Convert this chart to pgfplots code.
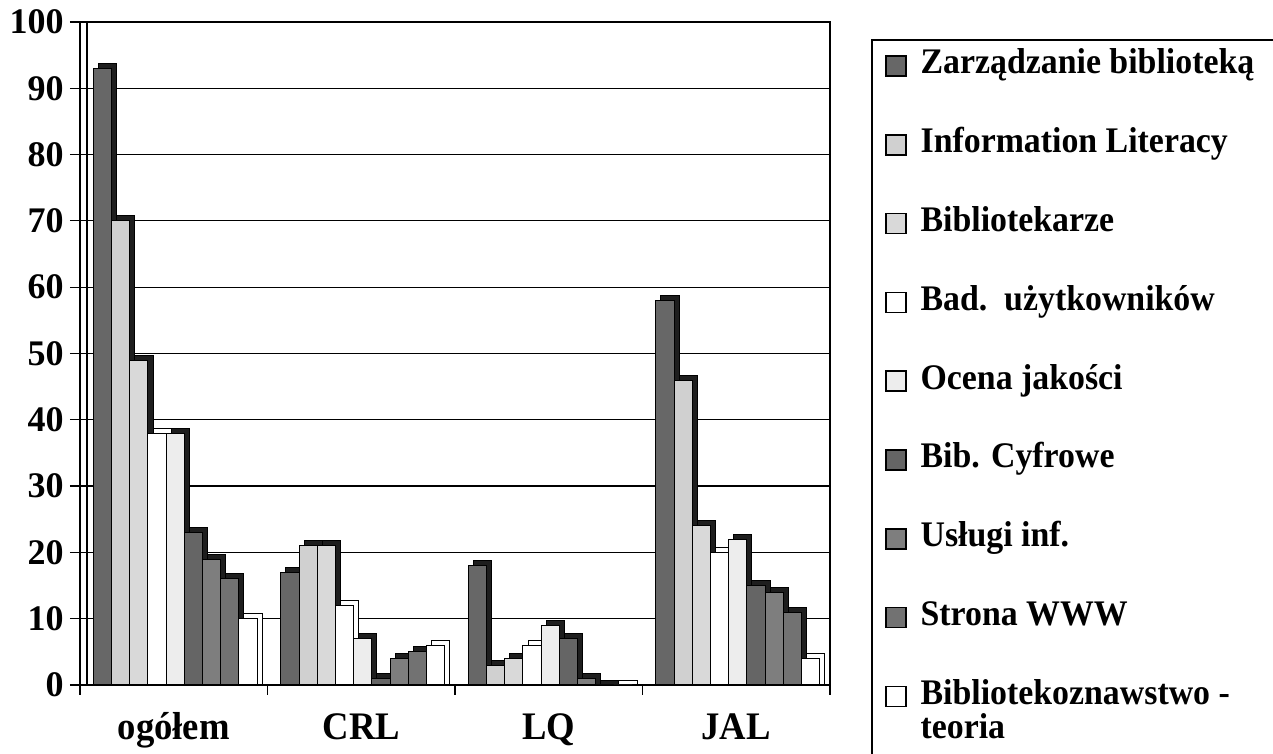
\documentclass[border=0pt]{standalone}
\usepackage{fontspec}
\setmainfont{Liberation Serif}
\newfontfamily\condfont{Liberation Serif}[FakeStretch=0.94]
\usepackage{pgfplots}
\pgfplotsset{compat=1.18}
\usepackage{pgfplotstable}

\pgfplotstableread{
x s1 s2 s3 s4 s5 s6 s7 s8 s9
0 93 70 49 38 38 23 19 16 10
1 17 21 21 12 7 1 4 5 6
2 18 3 4 6 9 7 1 0 0
3 58 46 24 20 22 15 14 11 4
}\datatab

\definecolor{c1}{HTML}{676767}
\definecolor{c2}{HTML}{D0D0D0}
\definecolor{c3}{HTML}{D9D9D9}
\definecolor{c4}{HTML}{FFFFFF}
\definecolor{c5}{HTML}{EDEDED}
\definecolor{c6}{HTML}{656565}
\definecolor{c7}{HTML}{7E7E7E}
\definecolor{c8}{HTML}{727272}
\definecolor{c9}{HTML}{FFFFFF}
\definecolor{shade}{HTML}{1E1E1E}

\pgfplotsset{
  bar/.style={ybar, bar width=0.097, bar shift=0pt, draw=black, line width=0.5pt},
}

\begin{document}
\begin{tikzpicture}
\begin{axis}[
  at={(0,0)}, anchor=south west, scale only axis,
  width=375pt, height=331.5pt,
  xmin=-0.5, xmax=3.5, ymin=0, ymax=100,
  xtick={0,1,2,3}, xticklabels={ogółem,CRL,LQ,JAL},
  major x tick style={draw=none},
  minor xtick={-0.5,0.5,1.5,2.5,3.5},
  ytick={0,10,...,100},
  ymajorgrids, grid style={black, line width=0.6pt},
  axis line style={black, line width=0.7pt},
  tick style={black, line width=0.6pt},
  tick align=outside, tick pos=left,
  major tick length=5pt, minor tick length=5pt,
  /pgf/number format/assume math mode=true,
  ticklabel style={font=\fontsize{18}{18}\selectfont\bfseries},
  xticklabel style={anchor=base, yshift=-22pt, font=\fontsize{19.5}{19.5}\selectfont\condfont\bfseries},
  yticklabel style={anchor=east, inner sep=0pt, xshift=-3pt},
  legend image code/.code={\draw[#1, line width=0.8pt] (0pt,-5pt) rectangle (10pt,5pt);},
  legend style={at={(axis description cs:1.0733,0.9578)}, anchor=north west,
    draw=none, fill=none, inner sep=0pt, outer sep=0pt, row sep=23.4pt, column sep=7pt,
    font=\fontsize{18}{20}\selectfont\condfont\bfseries,
    nodes={inner sep=0pt, text height=12pt, text depth=4pt, anchor=west}},
  legend cell align=left,
]
\addplot[bar, fill=shade, forget plot] table[x expr=\thisrow{x}-0.353, y expr=\thisrow{s1}+0.75]{\datatab};
\addplot[bar, fill=c1] table[x expr=\thisrow{x}-0.380, y=s1]{\datatab};
\addplot[bar, fill=shade, forget plot] table[x expr=\thisrow{x}-0.256, y expr=\thisrow{s2}+0.75]{\datatab};
\addplot[bar, fill=c2] table[x expr=\thisrow{x}-0.283, y=s2]{\datatab};
\addplot[bar, fill=shade, forget plot] table[x expr=\thisrow{x}-0.159, y expr=\thisrow{s3}+0.75]{\datatab};
\addplot[bar, fill=c3] table[x expr=\thisrow{x}-0.186, y=s3]{\datatab};
\addplot[bar, fill=white, forget plot] table[x expr=\thisrow{x}-0.062, y expr=\thisrow{s4}+0.75]{\datatab};
\addplot[bar, fill=c4] table[x expr=\thisrow{x}-0.089, y=s4]{\datatab};
\addplot[bar, fill=shade, forget plot] table[x expr=\thisrow{x}+0.035, y expr=\thisrow{s5}+0.75]{\datatab};
\addplot[bar, fill=c5] table[x expr=\thisrow{x}+0.008, y=s5]{\datatab};
\addplot[bar, fill=shade, forget plot] table[x expr=\thisrow{x}+0.132, y expr=\thisrow{s6}+0.75]{\datatab};
\addplot[bar, fill=c6] table[x expr=\thisrow{x}+0.105, y=s6]{\datatab};
\addplot[bar, fill=shade, forget plot] table[x expr=\thisrow{x}+0.229, y expr=\thisrow{s7}+0.75]{\datatab};
\addplot[bar, fill=c7] table[x expr=\thisrow{x}+0.202, y=s7]{\datatab};
\addplot[bar, fill=shade, forget plot] table[x expr=\thisrow{x}+0.326, y expr=\thisrow{s8}+0.75]{\datatab};
\addplot[bar, fill=c8] table[x expr=\thisrow{x}+0.299, y=s8]{\datatab};
\addplot[bar, fill=white, forget plot] table[x expr=\thisrow{x}+0.423, y expr=\thisrow{s9}+0.75]{\datatab};
\addplot[bar, fill=c9] table[x expr=\thisrow{x}+0.396, y=s9]{\datatab};
\legend{Zarządzanie biblioteką, Information Literacy, Bibliotekarze, Bad.~~użytkowników, Ocena jakości, Bib. Cyfrowe, Usługi inf., Strona WWW, {\parbox[t]{10cm}{Bibliotekoznawstwo -\\[-3pt]teoria}}}
\end{axis}
\draw[line width=0.6pt, black] (3.5pt,0pt) -- (3.5pt,331.5pt);
\draw[line width=0.8pt, black] (396pt,-100pt) |- (700pt,322.5pt);
\pgfresetboundingbox
\path[use as bounding box] (-40pt,-34.5pt) rectangle (596.5pt,342.5pt);
\end{tikzpicture}
\end{document}
